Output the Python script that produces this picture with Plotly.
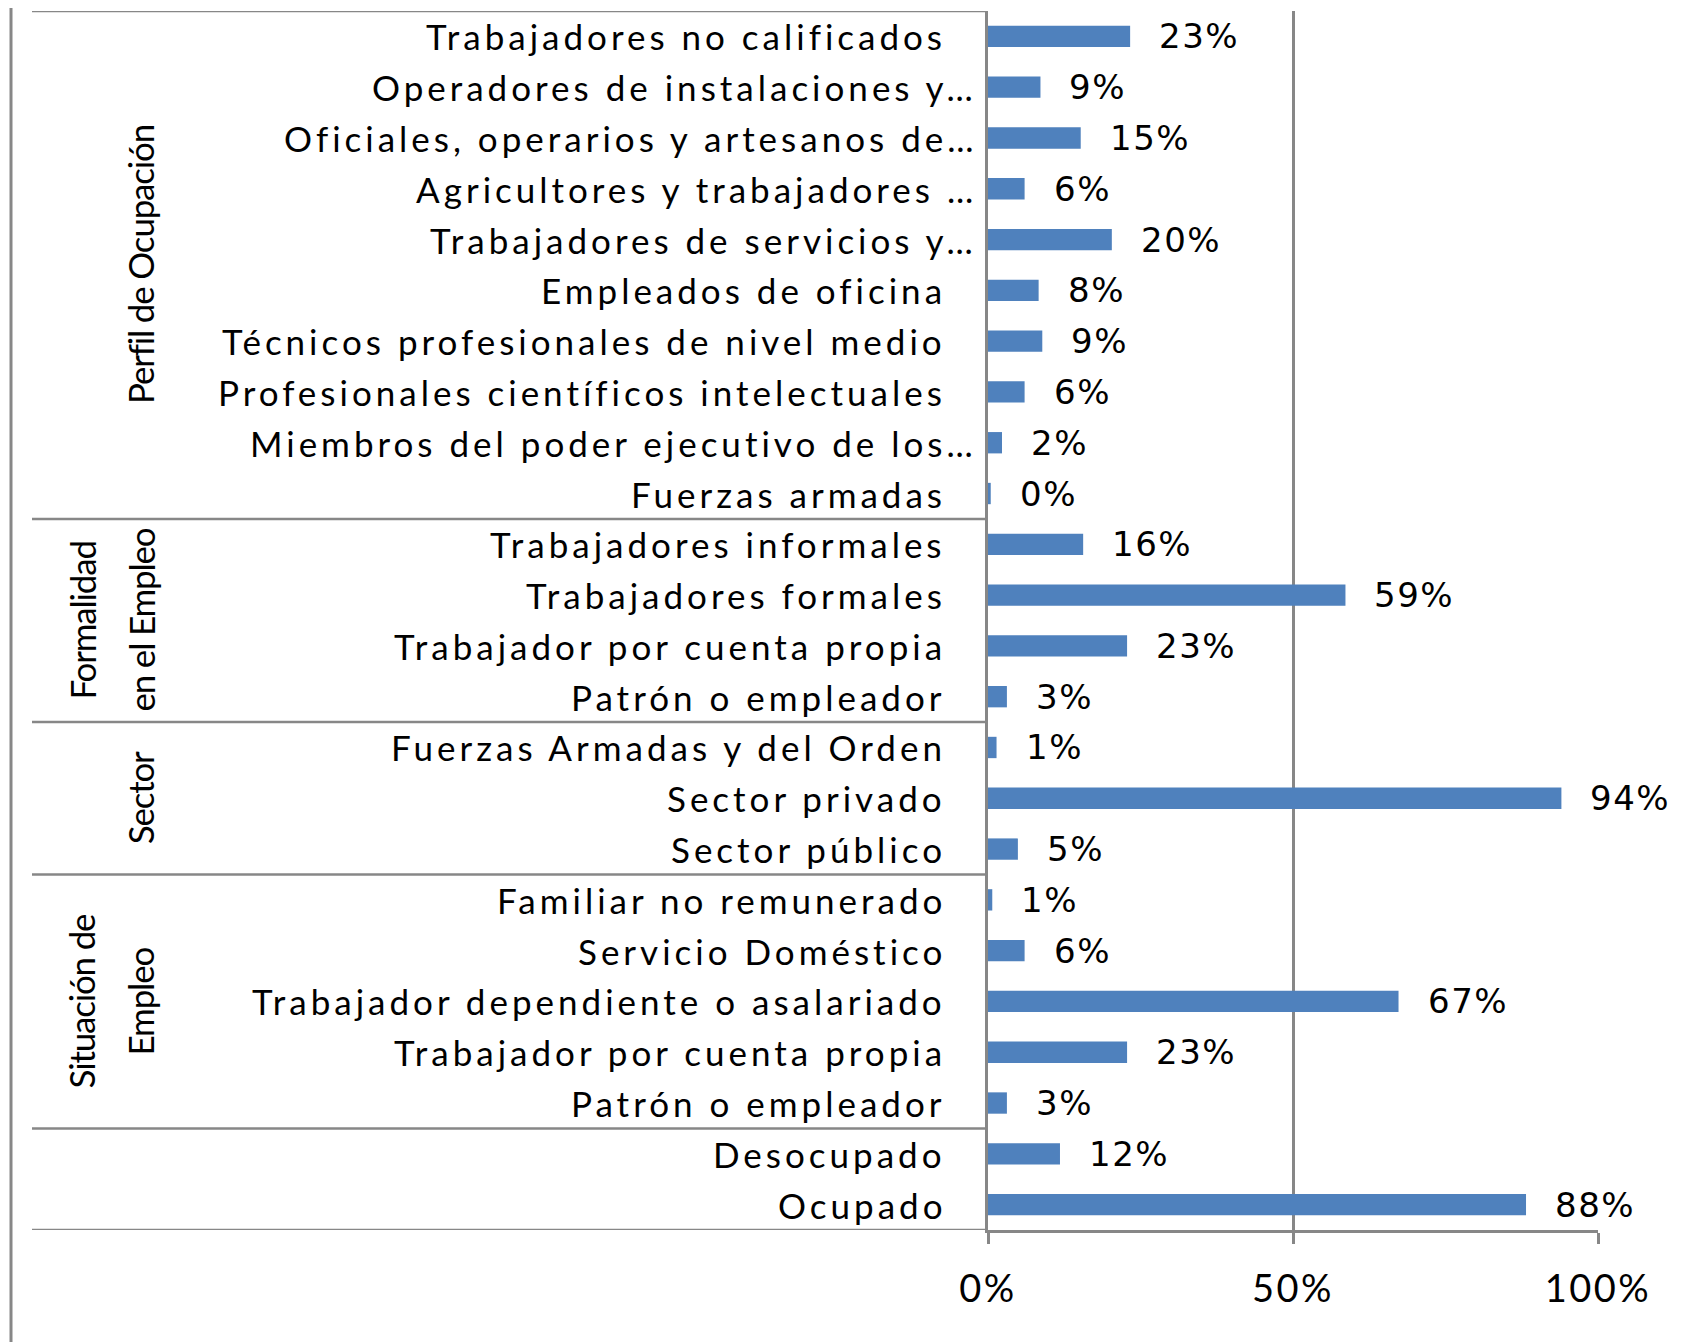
import plotly.graph_objects as go

# ---------------- data ----------------
categories = [
    "Trabajadores no calificados",
    "Operadores de instalaciones y…",
    "Oficiales, operarios y artesanos de…",
    "Agricultores y trabajadores …",
    "Trabajadores de servicios y…",
    "Empleados de oficina",
    "Técnicos profesionales de nivel medio",
    "Profesionales científicos intelectuales",
    "Miembros del poder ejecutivo de los…",
    "Fuerzas armadas",
    "Trabajadores informales",
    "Trabajadores formales",
    "Trabajador por cuenta propia",
    "Patrón o empleador",
    "Fuerzas Armadas y del Orden",
    "Sector privado",
    "Sector público",
    "Familiar no remunerado",
    "Servicio Doméstico",
    "Trabajador dependiente o asalariado",
    "Trabajador por cuenta propia",
    "Patrón o empleador",
    "Desocupado",
    "Ocupado",
]
values = [23.3, 8.6, 15.2, 6.0, 20.3, 8.3, 8.9, 6.0, 2.3, 0.45,
          15.6, 58.6, 22.8, 3.1,
          1.4, 94.0, 4.9,
          0.7, 6.0, 67.3, 22.8, 3.1,
          11.8, 88.2]
group_labels = [["Perfil de Ocupación"], ["Formalidad", "en el Empleo"], ["Sector"],
                ["Situación de", "Empleo"], []]
group_sizes = [10, 4, 3, 5, 2]
x_tick_vals = [0, 50, 100]
x_tick_text = ["0%", "50%", "100%"]

# ---------------- layout geometry (page pixels) ----------------
PAGE_OFF = 8                       # default body margin of the html page
W, H = 1684 - PAGE_OFF, 1342 - PAGE_OFF
PX_LEFT, PX_RIGHT = 988, 1598
PX_TOP, PX_BOTTOM = 11, 1230
TABLE_LEFT = 32
GRAY = "#878787"
BLUE = "#4F81BD"


def px(x):
    return (x - PAGE_OFF) / W


def py(y):
    return 1 - (y - PAGE_OFF) / H


def spaced(text, ls):
    return f'<span style="letter-spacing:{ls}px">{text}</span>'


n = len(categories)
ypos = list(range(n))

fig = go.Figure()
fig.add_trace(go.Bar(
    x=values, y=ypos, orientation="h",
    marker=dict(color=BLUE, line=dict(width=0)),
    width=0.42, hoverinfo="skip", showlegend=False,
))

annotations = []
# value labels
for v, y in zip(values, ypos):
    annotations.append(dict(
        x=v, y=y, xref="x", yref="y", xanchor="left", yanchor="middle",
        xshift=27, showarrow=False,
        text=spaced(f"{round(v)}%", 1.5),
        font=dict(family="DejaVu Sans", size=34, color="black"),
    ))
# category labels
for c, y in zip(categories, ypos):
    right = 979 if c.endswith("…") else 948
    annotations.append(dict(
        x=px(right), y=y, xref="paper", yref="y", xanchor="right", yanchor="middle",
        showarrow=False, text=spaced(c, 4),
        font=dict(family="Lato", size=35, color="black"),
    ))

# group separators and group labels
shapes = []
bounds = [0]
for size in group_sizes:
    bounds.append(bounds[-1] + size)
for b in bounds:
    shapes.append(dict(type="line", xref="paper", yref="y",
                       x0=px(TABLE_LEFT), x1=px(PX_LEFT), y0=b - 0.5, y1=b - 0.5,
                       line=dict(color=GRAY, width=2.5)))
start = 0
for g, size in enumerate(group_sizes):
    lines = group_labels[g]
    yc = start + (size - 1) / 2
    L = len(lines)
    for k, line in enumerate(lines):
        xc = 140 - (L - 1 - k) * 59
        annotations.append(dict(
            x=px(xc), y=yc, xref="paper", yref="y", xanchor="center", yanchor="middle",
            showarrow=False, textangle=-90, text=spaced(line, -1.2),
            font=dict(family="Lato", size=35, color="black"),
        ))
    start += size

# outer left border
shapes.append(dict(type="line", xref="paper", yref="paper",
                   x0=px(11), x1=px(11), y0=0, y1=1,
                   line=dict(color=GRAY, width=3)))

fig.update_layout(
    width=W, height=H,
    margin=dict(l=0, r=0, t=0, b=0),
    paper_bgcolor="white", plot_bgcolor="white",
    showlegend=False,
    annotations=annotations,
    shapes=shapes,
    xaxis=dict(
        domain=[px(PX_LEFT), px(PX_RIGHT)], range=[0, 100],
        tickvals=x_tick_vals, ticktext=[spaced(t, 2.5) for t in x_tick_text],
        tickfont=dict(family="Lato", size=38, color="black"),
        ticks="outside", ticklen=11, tickwidth=2.5, tickcolor=GRAY,
        ticklabelstandoff=13,
        showgrid=True, gridcolor=GRAY, gridwidth=2.5,
        showline=True, linecolor=GRAY, linewidth=2.5,
        zeroline=False, automargin=False, fixedrange=True,
    ),
    yaxis=dict(
        domain=[py(PX_BOTTOM), py(PX_TOP)], range=[n - 0.5, -0.5],
        showticklabels=False, ticks="", showgrid=False, zeroline=False,
        showline=True, linecolor=GRAY, linewidth=2.5,
        automargin=False, fixedrange=True,
    ),
)

fig.write_html("out.html")
